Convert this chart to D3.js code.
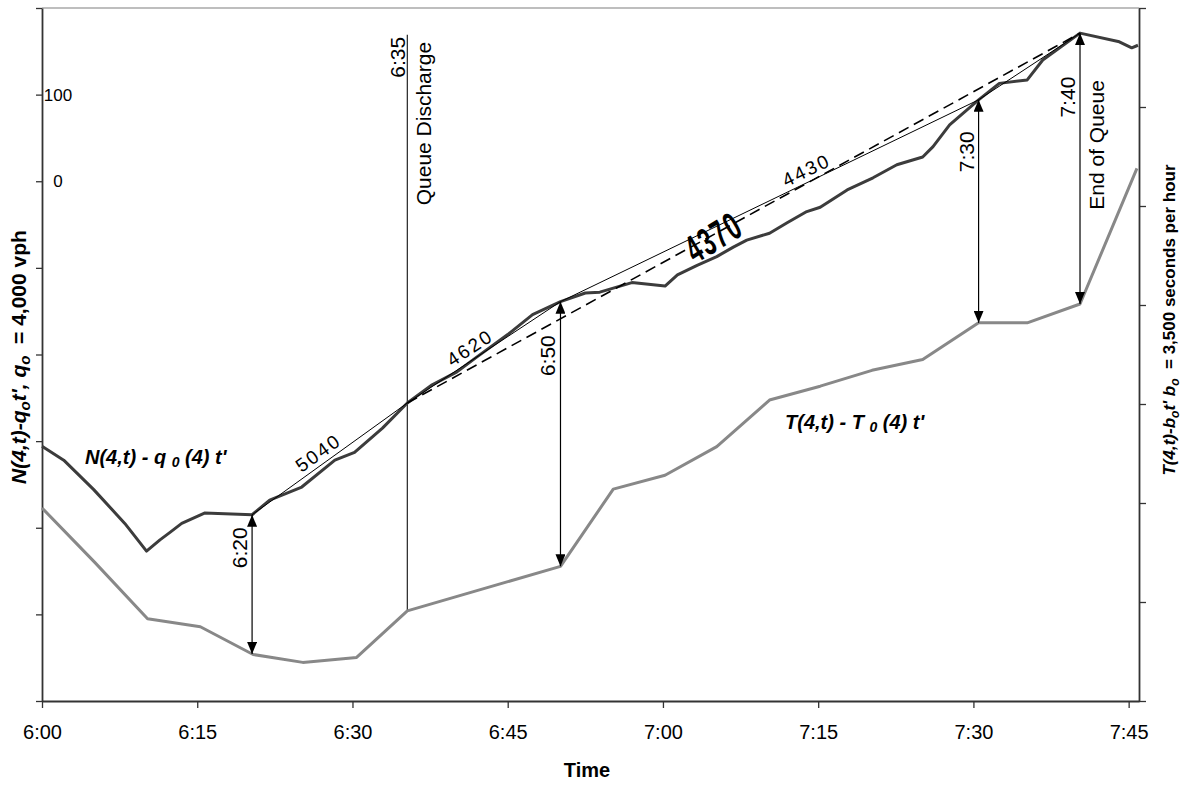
<!DOCTYPE html>
<html>
<head>
<meta charset="utf-8">
<script src="https://cdn.jsdelivr.net/npm/d3@7"></script>
<style>
  body { margin: 0; background: #fff; }
  svg { display: block; font-family: "Liberation Sans", Arial, sans-serif; }
</style>
</head>
<body>
<svg></svg>
<script>
let width = 1182;
let height = 785;

// minutes after 6:00
let nTimes = [0, 2.1, 5, 8, 10.1, 11.4, 12.4, 13.5, 15.7, 20.3, 22, 25.1, 28.3, 30.2, 32.9, 35.3,
  37.7, 40.1, 42, 45, 47.4, 50.1, 52.5, 53.9, 57, 60.2, 61.4, 63.3, 65.2, 66.8, 68.1, 70.3, 72,
  73.9, 75.2, 77.8, 80.3, 82.6, 85.1, 86.1, 87.7, 90.5, 92.5, 95.2, 96.7, 100.3, 104.1, 105.3, 105.9];
// N(4,t) - q0 t'  (left axis)
let nValues = [-306, -322, -356, -395, -427, -414, -405, -395, -383, -385, -368, -353, -322, -313, -285, -256,
  -235, -220, -203, -177, -154, -139, -129, -128, -117, -121, -108, -97, -87, -76, -68, -60, -48,
  -35, -30, -10, 4, 19, 28, 40, 65, 94, 113, 117, 140, 171, 161, 154, 157];

// T(4,t) - T0 t'  (right axis)
let tTimes = [0, 5.1, 10.2, 15.3, 20.4, 25.2, 30.4, 35.3, 50.1, 55.2, 60.2, 65.2, 70.3, 75.2, 80.2,
  85.1, 90.5, 95.2, 100.3, 105.8];
let tValues = [195, 140, 83, 75, 47, 39, 44, 91, 136, 214, 228, 257, 304, 318, 334,
  345, 382, 382, 401, 538];

let xTicks = [0, 15, 30, 45, 60, 75, 90, 105];
let leftTicks = [-600, -500, -400, -300, -200, -100, 0, 100, 200];
let leftLabels = [100, 0];
let rightTicks = [0, 100, 200, 300, 400, 500, 600, 700];

// flow rate segments (thin line) and overall rate (dashed)
let flowTimes = [20.3, 35.3, 50.1, 90.5, 100.3];
let flowValues = [-385, -256, -139, 94, 171];
let flowLabels = ['5040', '4620', '4430'];
let overallTimes = [35.3, 100.3];
let overallValues = [-256, 171];
let overallLabel = '4370';

// arrows between the two curves
let arrowTimes = [20.3, 50.1, 90.5, 100.3];
let arrowLabels = ['6:20', '6:50', '7:30', '7:40'];

let dischargeTime = 35.3;
let dischargeTop = 169;

let svg = d3.select('svg').attr('width', width).attr('height', height);

let x = d3.scaleLinear().domain([0, 106]).range([42, 1139]);
let yN = d3.scaleLinear().domain([-600, 200]).range([701, 8]);
let yT = d3.scaleLinear().domain([0, 700]).range([701, 8]);

function interp(ts, vs, t) {
  let i = d3.bisectLeft(ts, t);
  if (i <= 0) return vs[0];
  if (i >= ts.length) return vs[vs.length - 1];
  let f = (t - ts[i - 1]) / (ts[i] - ts[i - 1]);
  return vs[i - 1] + f * (vs[i] - vs[i - 1]);
}

function fmt(m) {
  return (6 + Math.floor(m / 60)) + ':' + String(m % 60).padStart(2, '0');
}

// arrow marker
svg.append('defs').append('marker')
  .attr('id', 'arr')
  .attr('viewBox', '0 0 12 10')
  .attr('refX', 12).attr('refY', 5)
  .attr('markerWidth', 12).attr('markerHeight', 10)
  .attr('markerUnits', 'userSpaceOnUse')
  .attr('orient', 'auto-start-reverse')
  .append('path')
  .attr('d', 'M0,0 L12,5 L0,10 Z')
  .attr('fill', '#000');

// top border
svg.append('line')
  .attr('x1', 42).attr('x2', 1139).attr('y1', 8).attr('y2', 8)
  .attr('stroke', '#a8a8a8').attr('stroke-width', 1.5);

// axes
let gx = svg.append('g').attr('transform', 'translate(0,701)')
  .call(d3.axisBottom(x).tickValues(xTicks).tickSize(7).tickSizeOuter(0).tickPadding(17).tickFormat(fmt));
gx.selectAll('text').attr('font-size', 20).attr('fill', '#000').attr('font-family', '"Liberation Sans", Arial, sans-serif');

let gl = svg.append('g').attr('transform', 'translate(42,0)')
  .call(d3.axisLeft(yN).tickValues(leftTicks).tickSize(6).tickSizeOuter(0).tickFormat(''));

let gr = svg.append('g').attr('transform', 'translate(1139,0)')
  .call(d3.axisRight(yT).tickValues(rightTicks).tickSize(7).tickSizeOuter(0).tickFormat(''));

svg.selectAll('.domain').attr('stroke', '#333').attr('stroke-width', 1.8);
svg.selectAll('.tick line').attr('stroke', '#333').attr('stroke-width', 1.3);

svg.selectAll('.leftlab')
  .data(leftLabels)
  .enter()
  .append('text')
  .attr('x', 58)
  .attr('y', d => yN(d))
  .attr('dy', '0.36em')
  .attr('text-anchor', 'middle')
  .attr('font-size', 17)
  .text(d => d);

// axis titles
svg.append('text')
  .attr('x', 587).attr('y', 777)
  .attr('text-anchor', 'middle')
  .attr('font-size', 20).attr('font-weight', 'bold')
  .text('Time');

let lt = svg.append('text')
  .attr('transform', 'translate(26,357) rotate(-90)')
  .attr('text-anchor', 'middle')
  .attr('font-size', 21).attr('font-weight', 'bold');
lt.append('tspan').attr('font-style', 'italic').text('N(4,t)-q');
lt.append('tspan').attr('font-style', 'italic').attr('font-size', 15).attr('dy', 4).text('o');
lt.append('tspan').attr('font-style', 'italic').attr('dy', -4).text("t', q");
lt.append('tspan').attr('font-style', 'italic').attr('font-size', 15).attr('dy', 4).text('o');
lt.append('tspan').attr('dy', -4).text('\u00a0 = 4,000 vph');

let rt = svg.append('text')
  .attr('transform', 'translate(1175,320) rotate(-90)')
  .attr('text-anchor', 'middle')
  .attr('font-size', 17).attr('font-weight', 'bold');
rt.append('tspan').attr('font-style', 'italic').text('T(4,t)-b');
rt.append('tspan').attr('font-style', 'italic').attr('font-size', 12).attr('dy', 4).text('o');
rt.append('tspan').attr('font-style', 'italic').attr('dy', -4).text("t' b");
rt.append('tspan').attr('font-style', 'italic').attr('font-size', 12).attr('dy', 4).text('o');
rt.append('tspan').attr('dy', -4).text('\u00a0 = 3,500 seconds per hour');

// discharge vertical line
let dx = x(dischargeTime);
svg.append('line')
  .attr('x1', dx).attr('x2', dx)
  .attr('y1', yN(dischargeTop))
  .attr('y2', yT(interp(tTimes, tValues, dischargeTime)))
  .attr('stroke', '#222').attr('stroke-width', 1.2);
svg.append('text')
  .attr('transform', `translate(${dx - 2},${yN(dischargeTop) + 2}) rotate(-90)`)
  .attr('text-anchor', 'end')
  .attr('font-size', 21)
  .text(fmt(35));
svg.append('text')
  .attr('transform', `translate(${dx + 24},${yN(dischargeTop) + 7}) rotate(-90)`)
  .attr('text-anchor', 'end')
  .attr('font-size', 21)
  .text('Queue Discharge');

// curves
let lineN = d3.line().x((d, i) => x(nTimes[i])).y(d => yN(d));
let lineT = d3.line().x((d, i) => x(tTimes[i])).y(d => yT(d));

svg.append('path')
  .attr('d', lineT(tValues))
  .attr('fill', 'none').attr('stroke', '#888').attr('stroke-width', 3).attr('stroke-linejoin', 'round');

svg.append('path')
  .attr('d', lineN(nValues))
  .attr('fill', 'none').attr('stroke', '#3c3c3c').attr('stroke-width', 3).attr('stroke-linejoin', 'round');

// thin flow-rate line
let lineF = d3.line().x((d, i) => x(flowTimes[i])).y(d => yN(d));
svg.append('path')
  .attr('d', lineF(flowValues))
  .attr('fill', 'none').attr('stroke', '#000').attr('stroke-width', 1);

// dashed overall line
let lineO = d3.line().x((d, i) => x(overallTimes[i])).y(d => yN(d));
svg.append('path')
  .attr('d', lineO(overallValues))
  .attr('fill', 'none').attr('stroke', '#000').attr('stroke-width', 1.6)
  .attr('stroke-dasharray', '11,6');

// flow labels along segments
let labelFrac = [0.47, 0.45, 0.6];
flowLabels.forEach((lab, i) => {
  let x0 = x(flowTimes[i]), y0 = yN(flowValues[i]);
  let x1 = x(flowTimes[i + 1]), y1 = yN(flowValues[i + 1]);
  let f = labelFrac[i];
  let px = x0 + f * (x1 - x0), py = y0 + f * (y1 - y0);
  let ang = Math.atan2(y1 - y0, x1 - x0) * 180 / Math.PI;
  svg.append('text')
    .attr('transform', `translate(${px},${py}) rotate(${ang})`)
    .attr('y', -5)
    .attr('text-anchor', 'middle')
    .attr('font-size', 19)
    .attr('letter-spacing', 2.2)
    .text(lab);
});

// overall label
{
  let x0 = x(overallTimes[0]), y0 = yN(overallValues[0]);
  let x1 = x(overallTimes[1]), y1 = yN(overallValues[1]);
  let f = 0.455;
  let px = x0 + f * (x1 - x0), py = y0 + f * (y1 - y0);
  svg.append('text')
    .attr('transform', `translate(${px},${py + 2}) rotate(-31) scale(0.6,1)`)
    .attr('dy', '0.36em')
    .attr('text-anchor', 'middle')
    .attr('font-size', 39)
    .attr('font-weight', 'bold')
    .attr('letter-spacing', 3)
    .text(overallLabel);
}

// arrows
arrowTimes.forEach((t, i) => {
  let ax = x(t);
  let yTop = yN(interp(nTimes, nValues, t));
  let yBot = yT(interp(tTimes, tValues, t));
  svg.append('line')
    .attr('x1', ax).attr('x2', ax)
    .attr('y1', yTop).attr('y2', yBot)
    .attr('stroke', '#000').attr('stroke-width', 1.2)
    .attr('marker-start', 'url(#arr)').attr('marker-end', 'url(#arr)');
  let ly = i === 3 ? yTop + 64 : (i === 2 ? yTop + 52 : (i === 1 ? yTop + 54 : yTop + 33));
  svg.append('text')
    .attr('transform', `translate(${ax - 5},${ly}) rotate(-90)`)
    .attr('text-anchor', 'middle')
    .attr('font-size', 21)
    .text(arrowLabels[i]);
});

// end of queue
{
  let ax = x(arrowTimes[3]);
  svg.append('text')
    .attr('transform', `translate(${ax + 24},${yN(interp(nTimes, nValues, arrowTimes[3])) + 47}) rotate(-90)`)
    .attr('text-anchor', 'end')
    .attr('font-size', 21)
    .text('End of Queue');
}

// curve labels
let nl = svg.append('text').attr('x', 85).attr('y', 464)
  .attr('font-size', 20).attr('font-weight', 'bold').attr('font-style', 'italic');
nl.append('tspan').text('N(4,t) - q ');
nl.append('tspan').attr('font-size', 14).attr('dy', 3).text('0');
nl.append('tspan').attr('dy', -3).text(" (4) t'");

let tl = svg.append('text').attr('x', 785).attr('y', 429)
  .attr('font-size', 20).attr('font-weight', 'bold').attr('font-style', 'italic');
tl.append('tspan').text('T(4,t) - T ');
tl.append('tspan').attr('font-size', 14).attr('dy', 3).text('0');
tl.append('tspan').attr('dy', -3).text(" (4) t'");
</script>
</body>
</html>
